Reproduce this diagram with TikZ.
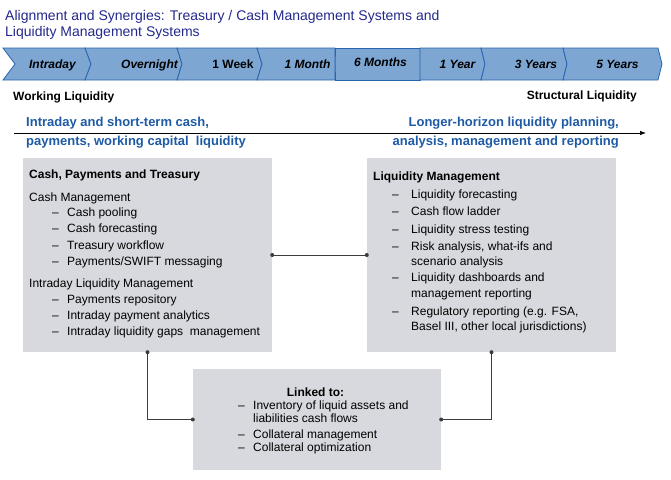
\documentclass[tikz,border=0pt]{standalone}
\usepackage{fontspec}
\setmainfont{Liberation Sans}
\usetikzlibrary{arrows.meta}
\definecolor{titleblue}{RGB}{35,40,140}
\definecolor{textblue}{RGB}{30,90,165}
\definecolor{chevfill}{RGB}{125,166,210}
\definecolor{chevline}{RGB}{40,100,175}
\definecolor{boxgray}{RGB}{215,217,222}
\definecolor{linkgray}{RGB}{60,60,60}
\begin{document}
\begin{tikzpicture}[x=1pt,y=-1pt,
  txt/.style={inner sep=0pt, text height=0.72em, text depth=0pt, anchor=west, font=\fontsize{12}{14}\selectfont},
  btxt/.style={txt, font=\fontsize{12}{14}\selectfont\bfseries},
  ttl/.style={txt, font=\fontsize{14}{16}\selectfont, text=titleblue},
  chev/.style={fill=chevfill, draw=chevline, line width=0.8pt, line join=miter},
  chevtxt/.style={inner sep=0pt, text height=0.72em, text depth=0pt, font=\fontsize{12}{14}\selectfont\bfseries\itshape},
  bluetxt/.style={txt, font=\fontsize{13}{15}\selectfont\bfseries, text=textblue},
  panel/.style={fill=boxgray, draw=none, inner sep=0pt},
  link/.style={draw=linkgray, line width=0.8pt},
  dot/.style={fill=linkgray}]
\useasboundingbox (0,0) rectangle (671,479);
% title
\node[ttl] (t1) at (5,16.5) {Alignment and Synergies: Treasury / Cash Management Systems and};
\node[ttl] (t2) at (5,32.5) {Liquidity Management Systems};
% chevrons
\foreach \a/\b/\c/\d in {3/15/85/91, 85/91/177/182, 177/182/257/262, 257/262/335/335, 335/335/420/420, 420/420/481/485, 481/485/563/567, 563/567/658/662}
  \path[chev] (\a,48) -- (\c,48) -- (\d,64) -- (\c,80) -- (\a,80) -- (\b,64) -- cycle;
\node[chevtxt] (c1) at (52.5,65) {Intraday};
\node[chevtxt] (c2) at (149.5,65) {Overnight};
\node[chevtxt, font=\fontsize{12}{14}\selectfont\bfseries] (c3) at (233,65) {1 Week};
\node[chevtxt] (c4) at (307.5,65) {1 Month};
\node[chevtxt] (c5) at (380.5,63) {6 Months};
\node[chevtxt] (c6) at (457.5,65) {1 Year};
\node[chevtxt] (c7) at (536,65) {3 Years};
\node[chevtxt] (c8) at (617.5,65) {5 Years};
% horizon labels
\node[btxt] (wl) at (13,97) {Working Liquidity};
\node[btxt, anchor=east] (sl) at (637,96) {Structural Liquidity};
\node[bluetxt] (bl1) at (26,123) {Intraday and short-term cash,};
\node[bluetxt] (bl2) at (26,142) {payments, working capital\ \ liquidity};
\node[bluetxt, anchor=east] (br1) at (619,123) {Longer-horizon liquidity planning,};
\node[bluetxt, anchor=east] (br2) at (619,142) {analysis, management and reporting};
\coordinate (arrS) at (14,133);
\coordinate (arrE) at (646,133);
\draw[-{Latex[length=6pt,width=4.5pt]}, line width=0.7pt] (arrS) -- (arrE);
% panels
\node[panel, minimum width=249pt, minimum height=194pt] (cpt) at (147.5,255) {};
\node[panel, minimum width=249pt, minimum height=194pt] (lm) at (491.5,255) {};
\node[panel, minimum width=248pt, minimum height=101pt] (lt) at (317,419.5) {};
% left panel text
\node[btxt] (cpth) at (29,175) {Cash, Payments and Treasury};
\node[txt] (cm) at (29,198) {Cash Management};
\foreach \y/\t [count=\i] in {213/{Cash pooling}, 229/{Cash forecasting}, 246/{Treasury workflow}, 262/{Payments/SWIFT messaging}, 300/{Payments repository}, 316/{Intraday payment analytics}, 332/{Intraday liquidity gaps\ \ management}}{
  \node[txt] (cpd\i) at (52,\y) {--};
  \node[txt] (cpi\i) at (67,\y) {\t};
}
\node[txt] (ilm) at (29,284) {Intraday Liquidity Management};
% right panel text
\node[btxt] (lmh) at (373,177) {Liquidity Management};
\foreach \y [count=\i] in {195,212,230,247,278,312}
  \node[txt] (lmd\i) at (392,\y) {--};
\foreach \y/\t [count=\i] in {195/{Liquidity forecasting}, 212/{Cash flow ladder}, 230/{Liquidity stress testing}, 247/{Risk analysis, what-ifs and}, 262/{scenario analysis}, 278/{Liquidity dashboards and}, 294/{management reporting}, 312/{Regulatory reporting (e.g. FSA,}, 327/{Basel III, other local jurisdictions)}}
  \node[txt] (lmi\i) at (411,\y) {\t};
% bottom panel text
\node[btxt, anchor=center] (lth) at (315.5,393) {Linked to:};
\foreach \y [count=\i] in {406,435,448}
  \node[txt] (ltd\i) at (238,\y) {--};
\foreach \y/\t [count=\i] in {406/{Inventory of liquid assets and}, 419/{liabilities cash flows}, 435/{Collateral management}, 448/{Collateral optimization}}
  \node[txt] (lti\i) at (253,\y) {\t};
% connectors
\draw[link] (cpt.east) -- (lm.west);
\draw[link] (cpt.south) |- (lt.west);
\draw[link] (lm.south) |- (lt.east);
\foreach \p in {cpt.east, lm.west, cpt.south, lt.west, lm.south, lt.east}
  \fill[dot] (\p) circle (2pt);
\end{tikzpicture}
\end{document}
